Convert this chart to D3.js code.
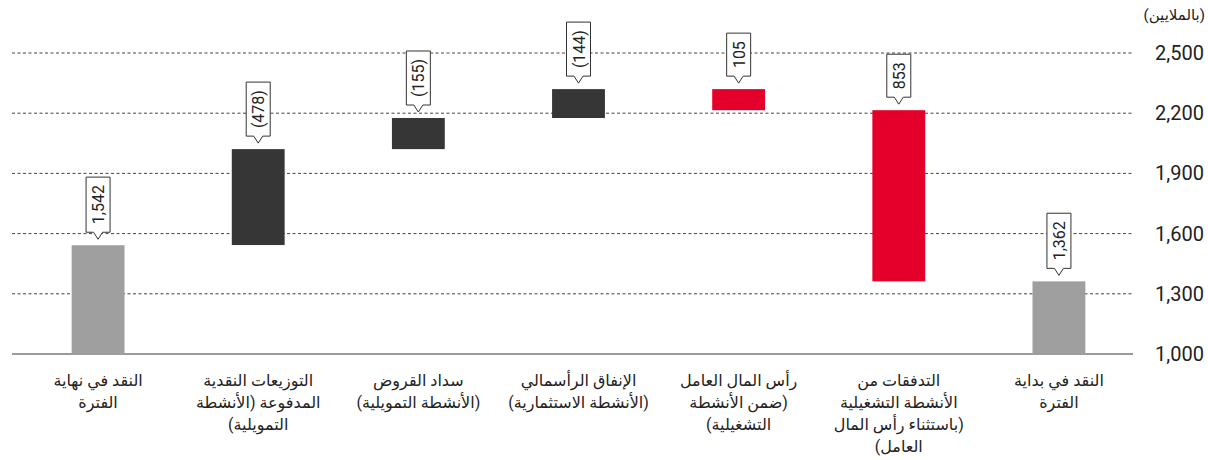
<html>
<head>
<meta charset="utf-8">
<style>
    body { margin:0; background:#fff; }
    text { font-family: Roboto, "DejaVu Sans", sans-serif; }
</style>
</head>
<body>
<svg id="plot"></svg>
<script src="https://d3js.org/d3.v7.min.js"></script>
<script>

// categories in flow order (drawn right to left)
var categories = ["start","operating","workingCapital","capex","loans","dividends","end"];
var categoryLabels = [
    ["النقد في بداية","الفترة"],
    ["التدفقات من","الأنشطة التشغيلية","(باستثناء رأس المال","العامل)"],
    ["رأس المال العامل","(ضمن الأنشطة","التشغيلية)"],
    ["الإنفاق الرأسمالي","(الأنشطة الاستثمارية)"],
    ["سداد القروض","(الأنشطة التمويلية)"],
    ["التوزيعات النقدية","المدفوعة (الأنشطة","التمويلية)"],
    ["النقد في نهاية","الفترة"]
];
var values = [1362, 853, 105, -144, -155, -478, 1542];
var kinds = ["total","step","step","step","step","step","total"];
var yTicks = [1000, 1300, 1600, 1900, 2200, 2500];
var unitLabel = "(بالملايين)";

var colors = {total:"#9f9f9f", up:"#e4002b", down:"#363636"};

var initGraph = function(target)
{
    var screen = {width:1208, height:460};

    d3.select(target)
        .attr("width",screen.width)
        .attr("height",screen.height);

    var svg = d3.select(target);

    var xScale = d3.scaleBand()
        .domain(categories)
        .range([1139,18])
        .paddingInner(0.67)
        .paddingOuter(0.335);

    var yScale = d3.scaleLinear()
        .domain([1000,2500])
        .range([354,53]);

    //build waterfall rows
    var running = 0;
    var rows = categories.map(function(c,i)
    {
        var v = values[i], lo, hi, fill;
        if(kinds[i]=="total")
        {
            lo = 1000; hi = v; running = v; fill = colors.total;
        }
        else
        {
            lo = Math.min(running, running+v);
            hi = Math.max(running, running+v);
            fill = v>=0 ? colors.up : colors.down;
            running += v;
        }
        return {key:c, value:v, lo:lo, hi:hi, fill:fill, lines:categoryLabels[i]};
    });

    //gridlines
    svg.append("g")
        .classed("grid",true)
        .selectAll("line")
        .data(yTicks.slice(1))
        .enter()
        .append("line")
        .attr("x1",12)
        .attr("x2",1133)
        .attr("y1",function(d){return yScale(d);})
        .attr("y2",function(d){return yScale(d);})
        .attr("stroke","#444")
        .attr("stroke-width",1)
        .attr("stroke-dasharray","3,2.5");

    //baseline
    svg.append("line")
        .attr("x1",12)
        .attr("x2",1133)
        .attr("y1",yScale(1000))
        .attr("y2",yScale(1000))
        .attr("stroke","#7a7a7a")
        .attr("stroke-width",1.5);

    //y axis on the right
    var yAxis = d3.axisRight(yScale)
        .tickValues(yTicks)
        .tickFormat(d3.format(","))
        .tickSize(0);

    var axisG = svg.append("g")
        .attr("transform","translate(1204,0)")
        .call(yAxis);
    axisG.select(".domain").remove();
    axisG.selectAll("text")
        .attr("x",0)
        .attr("text-anchor","end")
        .attr("font-size",20)
        .attr("fill","#222")
        .style("font-family","Roboto, sans-serif");

    svg.append("text")
        .text(unitLabel)
        .attr("x",1205)
        .attr("y",20)
        .attr("text-anchor","end")
        .attr("font-size",15)
        .attr("fill","#222");

    //bars
    svg.append("g")
        .classed("bars",true)
        .selectAll("rect")
        .data(rows)
        .enter()
        .append("rect")
        .attr("x",function(d){return xScale(d.key);})
        .attr("width",xScale.bandwidth())
        .attr("y",function(d){return yScale(d.hi);})
        .attr("height",function(d){return yScale(d.lo)-yScale(d.hi);})
        .attr("fill",function(d){return d.fill;});

    //callouts
    var fmt = d3.format(",");
    var callouts = svg.append("g")
        .classed("callouts",true)
        .selectAll("g")
        .data(rows)
        .enter()
        .append("g")
        .attr("transform",function(d)
        {
            return "translate("+(xScale(d.key)+xScale.bandwidth()/2)+","+(yScale(d.hi)-6)+")";
        });

    callouts.each(function(d)
    {
        var g = d3.select(this);
        var label = d.value<0 ? "("+fmt(-d.value)+")" : fmt(d.value);
        var txt = g.append("text")
            .text(label)
            .attr("font-size",16)
            .attr("fill","#222")
            .attr("text-anchor","middle")
            .style("font-family","Roboto, sans-serif");
        var len = txt.node().getComputedTextLength();
        var h = len+16, w = 24, p = 7;
        g.insert("path","text")
            .attr("d","M0,0 L-4.5,"+(-p)+" L"+(-w/2)+","+(-p)+" L"+(-w/2)+","+(-p-h)+
                  " L"+(w/2)+","+(-p-h)+" L"+(w/2)+","+(-p)+" L4.5,"+(-p)+" Z")
            .attr("fill","#fff")
            .attr("stroke","#333")
            .attr("stroke-width",1);
        txt.attr("transform","translate(6,"+(-p-h/2)+") rotate(-90)");
    });

    //category labels
    var labels = svg.append("g")
        .classed("labels",true)
        .selectAll("text")
        .data(rows)
        .enter()
        .append("text")
        .attr("direction","rtl")
        .attr("text-anchor","middle")
        .attr("font-size",16)
        .attr("fill","#222");

    labels.each(function(d)
    {
        var t = d3.select(this);
        d.lines.forEach(function(line,i)
        {
            t.append("tspan")
                .attr("x",xScale(d.key)+xScale.bandwidth()/2)
                .attr("y",386+i*22)
                .text(line);
        });
    });
}

initGraph("#plot");

</script>
</body>
</html>
